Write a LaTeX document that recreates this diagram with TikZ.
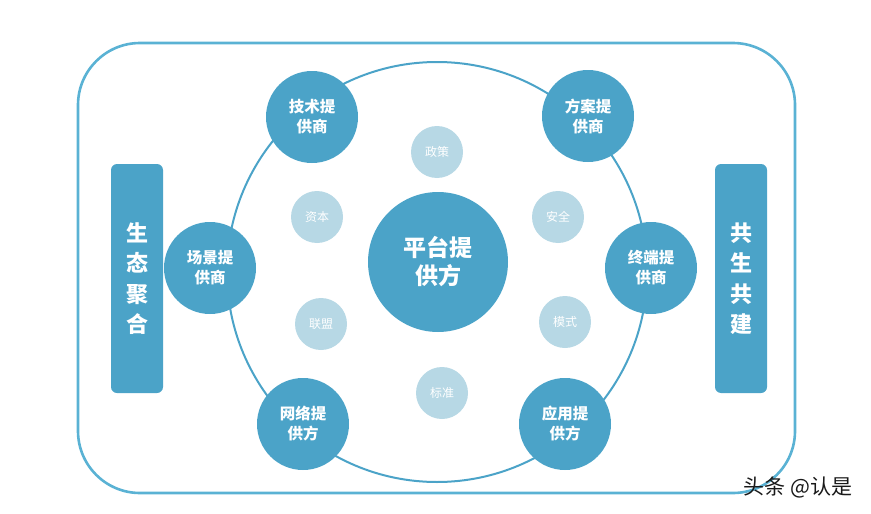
\documentclass[tikz,border=0pt]{standalone}
\usepackage{fontspec}
\newfontfamily\cjk{Noto Sans CJK SC}
\usetikzlibrary{positioning}
\definecolor{ringblue}{HTML}{4BA3C8}
\definecolor{paleblue}{HTML}{B7D8E5}
\definecolor{frameblue}{HTML}{5AB2D4}
\tikzset{
	partner/.style={circle,fill=ringblue,minimum size=92pt,inner sep=0pt,text=white,align=center,
		font=\cjk\bfseries\fontsize{15.5}{20}\selectfont},
	factor/.style={circle,fill=paleblue,minimum size=52pt,inner sep=0pt,text=white,
		font=\cjk\fontsize{12}{14}\selectfont},
	sidebar/.style={rounded corners=6pt,fill=ringblue,minimum width=52pt,minimum height=229pt,inner sep=0pt,
		text=white,align=center,font=\cjk\bfseries\fontsize{22}{30.5}\selectfont}
}
\begin{document}
\begin{tikzpicture}[line cap=round,line join=round,x=1pt,y=-1pt]
	\useasboundingbox (0,0) rectangle (871,514);
	\draw[color=frameblue,line width=2.6pt,rounded corners=62pt] (78,43) rectangle (795,493);
	\coordinate (hub) at (437,272);
	\draw[color=ringblue,line width=2pt] (hub) circle (210);
	\node[partner,minimum size=140pt,font=\cjk\bfseries\fontsize{23}{28}\selectfont] (platform) at (438,262) {平台提\\供方};
	\foreach \nm/\p/\txt in {tech/{(312,117)}/{技术提\\供商}, plan/{(588,116)}/{方案提\\供商},
		scene/{(210,268)}/{场景提\\供商}, term/{(651,268)}/{终端提\\供商},
		net/{(303,424)}/{网络提\\供方}, app/{(565,424)}/{应用提\\供方}}
	\node[partner] (\nm) at \p {\txt};
	\foreach \nm/\p/\txt in {policy/{(437,152)}/政策, capital/{(317,217)}/资本, safety/{(558,217)}/安全,
		league/{(321,324)}/联盟, mode/{(565,322)}/模式, norm/{(442,393)}/标准}
	\node[factor] (\nm) at \p {\txt};
	\node[sidebar] (eco) at (137,278.5) {生\\态\\聚\\合};
	\node[sidebar] (cobuild) at (741,278.5) {共\\生\\共\\建};
	\node[font=\cjk\fontsize{21}{24}\selectfont,text=black!90] (mark) at (798,487) {头条 @认是};
\end{tikzpicture}
\end{document}
